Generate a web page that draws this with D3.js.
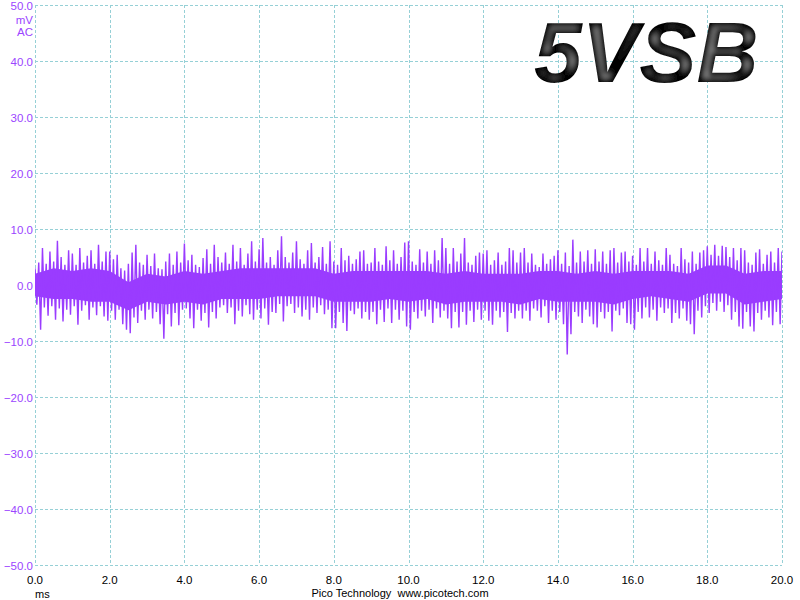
<!DOCTYPE html>
<html>
<head>
<meta charset="utf-8">
<script src="https://cdn.jsdelivr.net/npm/d3@7"></script>
<style>
  body { margin: 0; background: #fff; }
  svg { display: block; }
  text { font-family: "Liberation Sans", Arial, sans-serif; }
</style>
</head>
<body>
<svg id="chart" width="800" height="600"></svg>
<script>

/*************************** Data ***************************/

var timeTicks = [0, 2, 4, 6, 8, 10, 12, 14, 16, 18, 20];          // ms
var voltTicks = [-50, -40, -30, -20, -10, 0, 10, 20, 30, 40, 50];  // mV
var stepMs = 0.1;
var coreStepMs = 0.5;

// upper / lower peaks of the 5VSB ripple, one pair every 0.1 ms
var peakHi = [
  3.0, 4.0, 6.6, 3.8, 6.0, 4.2, 7.9, 5.0, 3.6, 6.2,
  5.6, 3.6, 6.6, 4.0, 5.2, 6.2, 3.8, 7.2, 4.2, 6.0,
  6.0, 4.6, 5.4, 3.0, 2.6, 3.8, 5.8, 7.2, 4.0, 3.6,
  5.4, 3.4, 5.6, 3.0, 2.8, 4.2, 5.6, 3.6, 6.0, 4.0,
  7.4, 4.4, 5.4, 3.6, 3.2, 4.8, 6.4, 3.8, 7.2, 5.0,
  4.0, 5.8, 3.8, 7.2, 4.2, 6.6, 3.6, 5.6, 7.8, 4.2,
  6.4, 8.4, 4.0, 5.0, 3.6, 6.2, 8.7, 5.0, 4.0, 5.8,
  7.8, 4.6, 3.8, 6.2, 7.5, 4.0, 5.0, 6.8, 3.8, 7.8,
  4.2, 3.6, 6.6, 4.4, 5.2, 3.8, 4.6, 6.0, 6.2, 3.8,
  4.0, 6.6, 4.2, 3.6, 6.9, 4.4, 6.2, 3.8, 5.0, 7.6,
  7.8, 4.2, 3.6, 6.4, 4.0, 6.0, 3.8, 6.2, 4.4, 8.4,
  6.6, 3.8, 6.6, 4.2, 5.6, 8.4, 4.0, 3.6, 5.2, 5.8,
  5.6, 6.2, 3.6, 4.4, 5.8, 3.6, 4.2, 6.6, 6.2, 4.0,
  5.8, 6.6, 4.0, 5.6, 3.6, 3.2, 5.6, 3.8, 4.6, 5.2,
  6.2, 3.8, 5.8, 3.4, 8.1, 4.0, 6.0, 4.2, 6.2, 3.8,
  6.4, 4.2, 6.0, 3.8, 6.2, 6.6, 4.0, 5.8, 6.0, 4.2,
  5.2, 3.6, 6.6, 4.2, 6.6, 3.8, 6.0, 4.4, 3.6, 6.6,
  5.4, 3.8, 3.4, 6.6, 4.6, 4.0, 6.0, 3.8, 5.8, 6.2,
  6.9, 5.4, 7.2, 5.2, 7.0, 6.8, 5.0, 6.6, 4.4, 6.6,
  6.2, 4.0, 3.6, 5.8, 6.4, 3.8, 5.4, 6.0, 4.0, 6.6, 6.0
];
var peakLo = [
  -3.5, -8.0, -4.0, -5.5, -3.8, -6.2, -4.2, -6.5, -4.4, -5.3,
  -3.8, -7.1, -4.6, -3.6, -6.2, -4.0, -5.4, -3.8, -5.6, -6.4,
  -4.6, -6.2, -4.4, -7.0, -8.0, -8.6, -5.8, -6.8, -4.6, -6.2,
  -4.4, -6.0, -4.8, -7.0, -9.6, -5.2, -7.4, -5.0, -7.2, -4.4,
  -4.2, -6.0, -7.7, -4.4, -6.4, -5.0, -7.6, -4.8, -6.0, -4.0,
  -3.6, -5.0, -4.0, -7.0, -4.6, -5.6, -3.6, -5.2, -6.2, -4.4,
  -6.0, -4.2, -7.1, -4.8, -5.0, -3.4, -6.5, -3.8, -3.4, -5.0,
  -4.0, -5.6, -4.4, -6.2, -4.0, -5.0, -3.6, -5.2, -4.4, -7.7,
  -7.7, -4.8, -6.8, -8.2, -4.6, -5.2, -4.2, -6.0, -4.8, -6.2,
  -4.8, -7.0, -4.4, -6.6, -4.2, -6.8, -4.4, -6.2, -4.6, -7.4,
  -8.0, -4.8, -6.0, -4.6, -5.6, -4.4, -6.8, -4.2, -5.8, -4.6,
  -6.0, -7.7, -4.8, -7.6, -4.8, -7.1, -4.6, -6.6, -4.4, -6.2,
  -4.6, -6.4, -7.1, -4.6, -5.8, -4.8, -8.4, -5.0, -6.0, -4.6,
  -6.0, -4.6, -6.4, -4.2, -4.6, -5.8, -3.8, -6.8, -4.6, -6.2,
  -4.8, -7.0, -12.4, -8.8, -4.8, -5.6, -6.8, -4.4, -5.6, -7.0,
  -7.6, -4.8, -6.0, -4.8, -8.3, -4.6, -5.4, -4.2, -6.8, -7.0,
  -8.0, -4.8, -6.0, -4.0, -5.8, -4.4, -6.4, -4.0, -5.0, -4.2,
  -6.8, -5.0, -6.0, -4.2, -6.4, -7.0, -8.8, -4.6, -5.8, -3.8,
  -5.0, -3.2, -4.6, -3.0, -4.8, -3.6, -6.2, -4.8, -7.4, -7.8,
  -4.8, -7.4, -8.3, -5.0, -6.2, -4.6, -5.8, -7.2, -4.8, -7.0, -6.0
];

// edges of the solid part of the trace, every 0.5 ms
var coreHi = [
  2.0, 3.0, 2.5, 3.0, 2.5, 0.5, 2.0, 1.5, 2.5, 2.0,
  2.5, 3.0, 3.0, 3.0, 3.0, 3.0, 2.0, 2.5, 2.5, 2.5,
  2.5, 2.5, 2.0, 2.5, 2.0, 2.0, 2.0, 2.5, 2.5, 2.0,
  2.5, 2.0, 2.5, 2.5, 2.5, 2.0, 3.5, 3.5, 2.0, 2.5, 2.5
];
var coreLo = [
  -2.0, -2.5, -2.5, -3.0, -3.0, -4.5, -3.0, -3.5, -3.0, -3.5,
  -2.5, -2.5, -2.5, -2.0, -2.0, -2.0, -3.0, -3.0, -3.0, -2.5,
  -3.0, -2.5, -3.5, -3.0, -3.0, -3.0, -3.5, -2.5, -3.0, -3.0,
  -3.0, -3.5, -2.5, -2.0, -2.5, -3.0, -1.5, -1.5, -3.5, -3.0, -2.5
];

/*************************** Setup ***************************/

var purple = "#9a3cff";
var label_purple = "#9b45ff";
var grid_color = "#96d0d6";

var svg = d3.select("#chart");
var x = d3.scaleLinear().domain([0, 20]).range([35, 782]);
var y = d3.scaleLinear().domain([-50, 50]).range([565, 5]);

var defs = svg.append("defs");
defs.append("clipPath").attr("id", "plot_clip")
  .append("rect")
  .attr("x", x(0)).attr("y", y(50))
  .attr("width", x(20) - x(0)).attr("height", y(-50) - y(50));

/*************************** Grid ***************************/

var grid = svg.append("g");

grid.selectAll(".vgrid").data(timeTicks).enter().append("line")
  .attr("x1", function(d){ return Math.round(x(d)) + 0.5; })
  .attr("x2", function(d){ return Math.round(x(d)) + 0.5; })
  .attr("y1", y(50)).attr("y2", y(-50))
  .style("stroke", grid_color).style("stroke-dasharray", "3,2");

grid.selectAll(".hgrid").data(voltTicks).enter().append("line")
  .attr("y1", function(d){ return Math.round(y(d)) + 0.5; })
  .attr("y2", function(d){ return Math.round(y(d)) + 0.5; })
  .attr("x1", x(0)).attr("x2", x(20))
  .style("stroke", grid_color).style("stroke-dasharray", "3,2");

/*************************** Axis labels ***************************/

var fmt = d3.format(".1f");

svg.selectAll(".ylab").data(voltTicks).enter().append("text")
  .attr("x", 33).attr("y", function(d){ return y(d) + 4.5; })
  .attr("text-anchor", "end").attr("font-size", 11.5)
  .attr("fill", label_purple)
  .text(fmt);

svg.selectAll(".xlab").data(timeTicks).enter().append("text")
  .attr("x", function(d){ return x(d); }).attr("y", 584)
  .attr("text-anchor", "middle").attr("font-size", 11.5)
  .attr("fill", "#000")
  .text(fmt);

// unit labels
svg.append("text").attr("x", 33).attr("y", 24).attr("text-anchor", "end")
  .attr("font-size", 11.5).attr("fill", label_purple).text("mV");
svg.append("text").attr("x", 33).attr("y", 36).attr("text-anchor", "end")
  .attr("font-size", 11.5).attr("fill", label_purple).text("AC");
svg.append("text").attr("x", 35).attr("y", 598)
  .attr("font-size", 11).attr("fill", "#000").text("ms");
svg.append("text").attr("x", 400).attr("y", 597).attr("text-anchor", "middle")
  .attr("font-size", 11).attr("fill", "#000").attr("xml:space", "preserve")
  .text("Pico Technology  www.picotech.com");

/*************************** Trace ***************************/

var trace = svg.append("g").attr("clip-path", "url(#plot_clip)");

// solid body
trace.append("path")
  .datum(coreHi)
  .attr("d", d3.area()
    .x(function(d, i){ return x(i * coreStepMs); })
    .y0(function(d, i){ return y(coreLo[i]); })
    .y1(function(d){ return y(d); }))
  .attr("fill", purple);

// spikes
var trace_pts = [];
peakHi.forEach(function(v, i){
  trace_pts.push([x(i * stepMs), y(v)]);
  trace_pts.push([x(i * stepMs + stepMs / 2), y(peakLo[i])]);
});

trace.append("path")
  .attr("d", d3.line()(trace_pts))
  .attr("fill", "none")
  .attr("stroke", purple)
  .attr("stroke-width", 1.4);

/*************************** Title ***************************/

var bevel = defs.append("filter").attr("id", "bevel")
  .attr("x", "-5%").attr("y", "-5%").attr("width", "110%").attr("height", "110%");
bevel.append("feMorphology").attr("in", "SourceAlpha").attr("operator", "erode").attr("radius", 4).attr("result", "thin");
bevel.append("feGaussianBlur").attr("in", "thin").attr("stdDeviation", 2.5).attr("result", "soft");
bevel.append("feFlood").attr("flood-color", "#8c8c8c").attr("result", "grey");
bevel.append("feComposite").attr("in", "grey").attr("in2", "soft").attr("operator", "in").attr("result", "glow");
bevel.append("feComposite").attr("in", "glow").attr("in2", "SourceAlpha").attr("operator", "in").attr("result", "glow_in");
var merge = bevel.append("feMerge");
merge.append("feMergeNode").attr("in", "SourceGraphic");
merge.append("feMergeNode").attr("in", "glow_in");

svg.append("text")
  .attr("x", 534).attr("y", 82)
  .attr("font-size", 86)
  .attr("font-style", "italic")
  .attr("font-weight", "bold")
  .attr("fill", "#050505")
  .attr("filter", "url(#bevel)")
  .text("5VSB");

</script>
</body>
</html>
